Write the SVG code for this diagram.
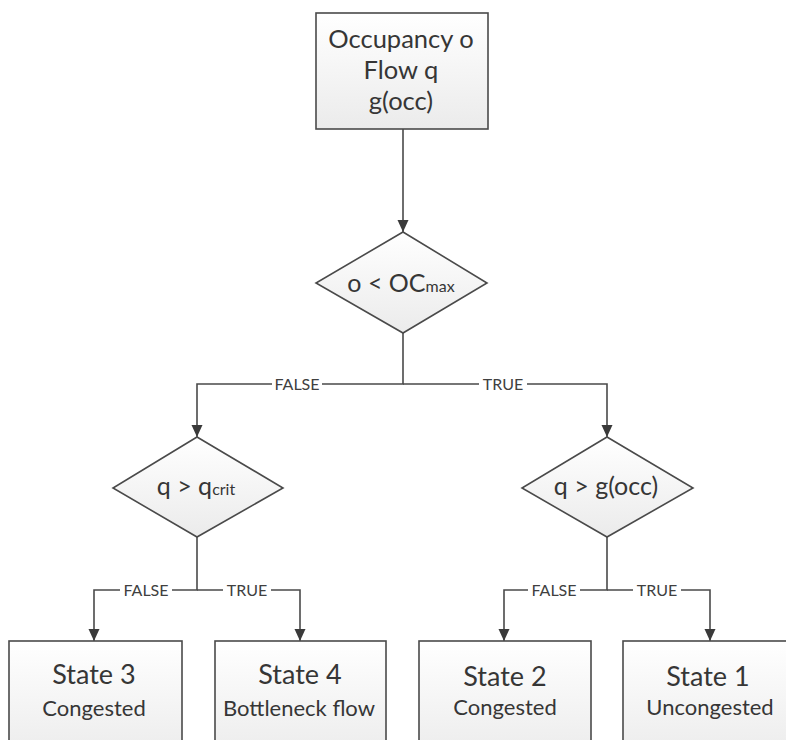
<svg xmlns="http://www.w3.org/2000/svg" width="786" height="740" viewBox="0 0 786 740">
  <style>
    .shape { fill: url(#shade); stroke: #4a4a4a; stroke-width: 1.6; }
    .txt { font-family: Lato, "Open Sans", "Liberation Sans", sans-serif; fill: #363636; text-anchor: middle; }
    .head { font-size: 25.5px; }
    .big { font-size: 27px; }
    .sub { font-size: 22px; }
    .cond { font-size: 25px; }
    .small { font-size: 16px; }
    .edge { fill: none; stroke: #4a4a4a; stroke-width: 1.6; }
    .lbl { font-family: Lato, "Open Sans", "Liberation Sans", sans-serif; font-size: 16px; fill: #404040; text-anchor: middle; }
    .lblbg { fill: #ffffff; }
  </style>
  <defs>
    <linearGradient id="shade" x1="0" y1="0" x2="0" y2="1">
      <stop offset="0" stop-color="#ffffff"/>
      <stop offset="1" stop-color="#ebebeb"/>
    </linearGradient>
    <marker id="arrow" viewBox="0 0 12 12" refX="12" refY="6" markerWidth="12" markerHeight="12" markerUnits="userSpaceOnUse" orient="auto">
      <path d="M0,0.5 L12,6 L0,11.5 Z" fill="#3a3a3a"/>
    </marker>
  </defs>
  <rect width="786" height="740" fill="#ffffff"/>

  <!-- connectors -->
  <g id="connectors">
    <path class="edge" d="M403,129 V232" marker-end="url(#arrow)"/>
    <path class="edge" d="M403,333 V384 H197 V437" marker-end="url(#arrow)"/>
    <path class="edge" d="M403,384 H607 V437" marker-end="url(#arrow)"/>
    <path class="edge" d="M197,537 V590 H94 V641" marker-end="url(#arrow)"/>
    <path class="edge" d="M197,590 H300 V641" marker-end="url(#arrow)"/>
    <path class="edge" d="M607,537 V590 H504 V641" marker-end="url(#arrow)"/>
    <path class="edge" d="M607,590 H710 V641" marker-end="url(#arrow)"/>
    <g id="edge-labels">
      <rect class="lblbg" x="272" y="376" width="50" height="16"/>
      <text class="lbl" x="297" y="389.5">FALSE</text>
      <rect class="lblbg" x="479" y="376" width="48" height="16"/>
      <text class="lbl" x="503" y="389.5">TRUE</text>
      <rect class="lblbg" x="120" y="582" width="52" height="16"/>
      <text class="lbl" x="146" y="595.5">FALSE</text>
      <rect class="lblbg" x="223" y="582" width="48" height="16"/>
      <text class="lbl" x="247" y="595.5">TRUE</text>
      <rect class="lblbg" x="528" y="582" width="52" height="16"/>
      <text class="lbl" x="554" y="595.5">FALSE</text>
      <rect class="lblbg" x="633" y="582" width="48" height="16"/>
      <text class="lbl" x="657" y="595.5">TRUE</text>
    </g>
  </g>

  <!-- input measurements -->
  <g id="inputs">
    <rect class="shape" x="316" y="13" width="172" height="116"/>
    <text class="txt head" x="401" y="48">Occupancy o</text>
    <text class="txt head" x="401" y="79">Flow q</text>
    <text class="txt head" x="401" y="110">g(occ)</text>
  </g>

  <!-- decision: occupancy below maximum -->
  <g id="occ-check">
    <polygon class="shape" points="403,232 487,283 403,333 316,283"/>
    <text class="txt cond" x="401" y="292">o &lt; OC<tspan class="small">max</tspan></text>
  </g>

  <!-- decision: flow above critical flow -->
  <g id="qcrit-check">
    <polygon class="shape" points="197,437 283,488 197,537 113,488"/>
    <text class="txt cond" x="196" y="495">q &gt; q<tspan class="small">crit</tspan></text>
  </g>

  <!-- decision: flow above g(occ) -->
  <g id="gocc-check">
    <polygon class="shape" points="607,437 693,488 607,537 522,488"/>
    <text class="txt cond" x="606" y="495">q &gt; g(occ)</text>
  </g>

  <!-- resulting states -->
  <g id="state3">
    <rect class="shape" x="9" y="641" width="173" height="120"/>
    <text class="txt big" x="94" y="684">State 3</text>
    <text class="txt sub" x="94" y="716">Congested</text>
  </g>
  <g id="state4">
    <rect class="shape" x="215" y="641" width="171" height="120"/>
    <text class="txt big" x="300" y="684">State 4</text>
    <text class="txt sub" x="299" y="716">Bottleneck flow</text>
  </g>
  <g id="state2">
    <rect class="shape" x="419" y="641" width="172" height="120"/>
    <text class="txt big" x="505" y="686">State 2</text>
    <text class="txt sub" x="505" y="715">Congested</text>
  </g>
  <g id="state1">
    <rect class="shape" x="623" y="641" width="174" height="120"/>
    <text class="txt big" x="708" y="686">State 1</text>
    <text class="txt sub" x="710" y="715">Uncongested</text>
  </g>
</svg>
